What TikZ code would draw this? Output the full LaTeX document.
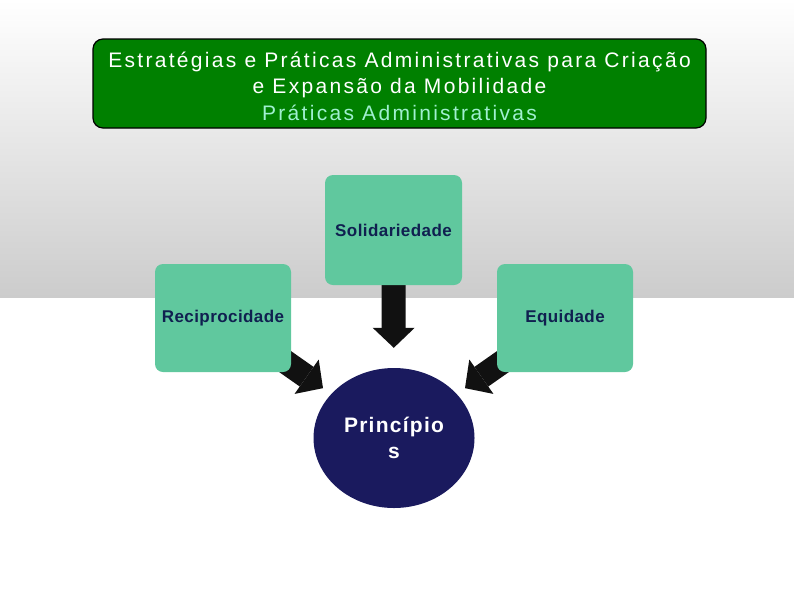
\documentclass[tikz,border=0pt]{standalone}
\usepackage{fontspec}
\setmainfont{Liberation Sans}
\newfontfamily\titlefont[LetterSpace=11]{Liberation Sans}
\newfontfamily\labelfont[LetterSpace=2.5]{Liberation Sans}
\newfontfamily\circlefont[LetterSpace=6]{Liberation Sans}
\usetikzlibrary{arrows.meta, shapes.geometric}
\definecolor{titlegreen}{RGB}{0,128,0}
\definecolor{titlemint}{RGB}{160,240,208}
\definecolor{boxmint}{RGB}{96,200,158}
\definecolor{labelnavy}{RGB}{16,32,80}
\definecolor{circlenavy}{RGB}{26,26,94}
\definecolor{bggray}{RGB}{204,204,204}
\definecolor{arrowblack}{RGB}{17,17,17}
\pgfdeclarelayer{back}
\pgfdeclarelayer{arrows}
\pgfsetlayers{back,arrows,main}

\begin{document}
\begin{tikzpicture}[
    x=1pt, y=-1pt,
    titlebox/.style={rectangle, draw=black, line width=1.2pt, fill=titlegreen, rounded corners=10pt, minimum width=613pt, minimum height=89pt, align=center, text=white, font=\titlefont\fontsize{21}{26.5}\selectfont},
    valuebox/.style={rectangle, fill=boxmint, rounded corners=8pt, minimum width=136pt, minimum height=108pt, inner sep=0pt, text=labelnavy, font=\labelfont\bfseries\fontsize{17}{20}\selectfont},
    core/.style={ellipse, fill=circlenavy, minimum width=161pt, minimum height=140pt, inner sep=0pt, align=center, text=white, font=\circlefont\bfseries\fontsize{21}{26}\selectfont},
    blockarrow/.style={draw=arrowblack, line width=24pt, -{Triangle[width=42pt, length=20pt, line width=0pt]}}
  ]
    \useasboundingbox (0,0) rectangle (794,595);
    \begin{pgfonlayer}{back}
      \fill[white] (0,0) rectangle (794,595);
      \shade[top color=white, bottom color=bggray] (0,0) rectangle (794,297);
    \end{pgfonlayer}

    \node[titlebox] (title) at (399.5,83.5) {\rule{0pt}{21pt}Estratégias e Práticas Administrativas para Criação\\e Expansão da Mobilidade\\\textcolor{titlemint}{Práticas Administrativas}};

    \node[valuebox, minimum width=137pt, minimum height=110pt] (sol) at (393.5,230) {Solidariedade};
    \node[valuebox] (rec) at (223,318) {Reciprocidade};
    \node[valuebox] (equ) at (565,318) {Equidade};
    \node[core] (pri) at (394,438) {Princípio\\s};

    \begin{pgfonlayer}{arrows}
      \draw[blockarrow, shorten >=20pt] (sol) -- (pri);
      \draw[blockarrow, shorten >=10pt] (rec.center) -- (pri);
      \draw[blockarrow, shorten >=10pt] (equ.center) -- (pri);
    \end{pgfonlayer}
  \end{tikzpicture}
\end{document}
